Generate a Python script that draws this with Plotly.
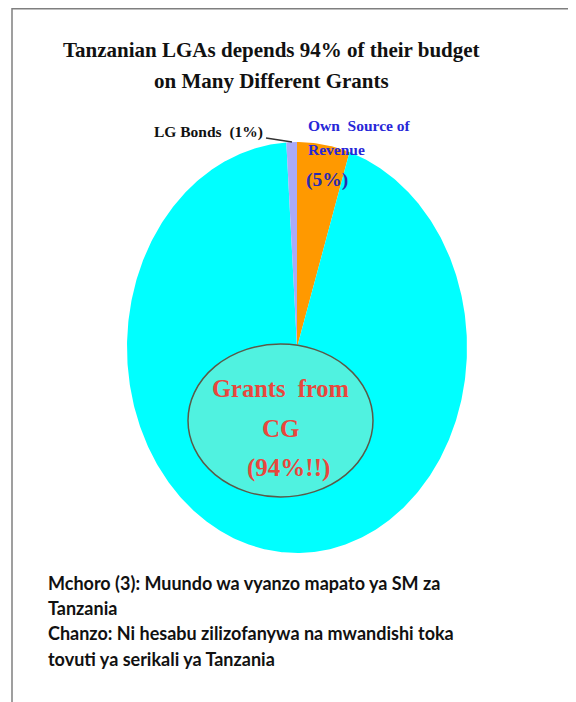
import numpy as np
import plotly.graph_objects as go

# ---- data ----
categories = ["Own Source of Revenue", "Grants from CG", "LG Bonds"]
values = [5, 94, 1]
slice_colors = ["#FF9900", "#00FFFF", "#AAAAF8"]

title_lines = ["Tanzanian LGAs depends 94% of their budget", "on Many Different Grants"]
caption_lines = [
    "Mchoro (3): Muundo wa vyanzo mapato ya SM za",
    "Tanzania",
    "Chanzo: Ni hesabu zilizofanywa na mwandishi toka",
    "tovuti ya serikali ya Tanzania",
]

W, H = 576, 702
OFF = 8  # page body margin
cx, cy, rx, ry = 297, 347.5, 170, 205.5
SERIF = "Liberation Serif, Times New Roman, serif"

fig = go.Figure()
total = float(sum(values))
start = 0.0
for cat, v, c in zip(categories, values, slice_colors):
    a0 = start / total * 2 * np.pi
    a1 = (start + v) / total * 2 * np.pi
    t = np.linspace(a0, a1, max(6, int(v * 6)))
    xs = [cx] + list(cx + rx * np.sin(t)) + [cx]
    ys = [cy] + list(cy - ry * np.cos(t)) + [cy]
    fig.add_trace(go.Scatter(x=xs, y=ys, fill="toself", fillcolor=c, mode="lines",
                             line=dict(width=0, color=c), name=cat,
                             hoverinfo="text", text=f"{cat}: {v}%", showlegend=False))
    start += v

shapes = [
    # frame
    dict(type="line", x0=12, y0=OFF + 0.8, x1=W + 20, y1=OFF + 0.8, line=dict(color="#7f7f7f", width=1.5)),
    dict(type="line", x0=12, y0=OFF, x1=12, y1=H + 20, line=dict(color="#7f7f7f", width=1.5)),
    # highlight ellipse
    dict(type="circle", x0=188, y0=344, x1=373, y1=497, fillcolor="#50F2E0",
         line=dict(color="#5a5a48", width=1.5)),
    # leader line
    dict(type="line", x0=266, y0=138, x1=292, y1=142, line=dict(color="#333333", width=1.5)),
]

ann = []
for i, line in enumerate(title_lines):
    ann.append(dict(x=W / 2 - 17, y=50 + i * 30.5, text=f"<b>{line}</b>", showarrow=False,
                    font=dict(family=SERIF, size=21, color="#111111"), xanchor="center", yanchor="middle"))
ann += [
    dict(x=152, y=132, text="<b>LG Bonds  (1%)</b>", showarrow=False, xanchor="left", yanchor="middle",
         font=dict(family=SERIF, size=15.5, color="#111111")),
    dict(x=306, y=125, text="<b>Own  Source of</b>", showarrow=False, xanchor="left", yanchor="middle",
         font=dict(family=SERIF, size=15.5, color="#2727D8")),
    dict(x=306, y=149, text="<b>Revenue</b>", showarrow=False, xanchor="left", yanchor="middle",
         font=dict(family=SERIF, size=15.5, color="#2727D8")),
    dict(x=304, y=180, text="<b>(5%)</b>", showarrow=False, xanchor="left", yanchor="middle",
         font=dict(family=SERIF, size=19.5, color="#2A2AB0")),
    dict(x=280, y=388, text="<b>Grants  from</b>", showarrow=False, xanchor="center", yanchor="middle",
         font=dict(family=SERIF, size=24.5, color="#E8473D")),
    dict(x=281, y=428, text="<b>CG</b>", showarrow=False, xanchor="center", yanchor="middle",
         font=dict(family=SERIF, size=25, color="#E8473D")),
    dict(x=288, y=468, text="<b>(94%!!)</b>", showarrow=False, xanchor="center", yanchor="middle",
         font=dict(family=SERIF, size=25, color="#E8473D")),
]
for i, line in enumerate(caption_lines):
    ann.append(dict(x=46, y=583 + i * 25.2, text=f"<b>{line}</b>", showarrow=False, xanchor="left",
                    yanchor="middle", font=dict(family="Lato, Open Sans, sans-serif", size=18, color="#111111")))

fig.update_layout(
    width=W, height=H, margin=dict(l=0, r=0, t=0, b=0),
    paper_bgcolor="white", plot_bgcolor="white",
    xaxis=dict(range=[OFF, W + OFF], visible=False, fixedrange=True),
    yaxis=dict(range=[H + OFF, OFF], visible=False, fixedrange=True),
    shapes=shapes, annotations=ann, showlegend=False,
)
fig.write_html("out.html")
